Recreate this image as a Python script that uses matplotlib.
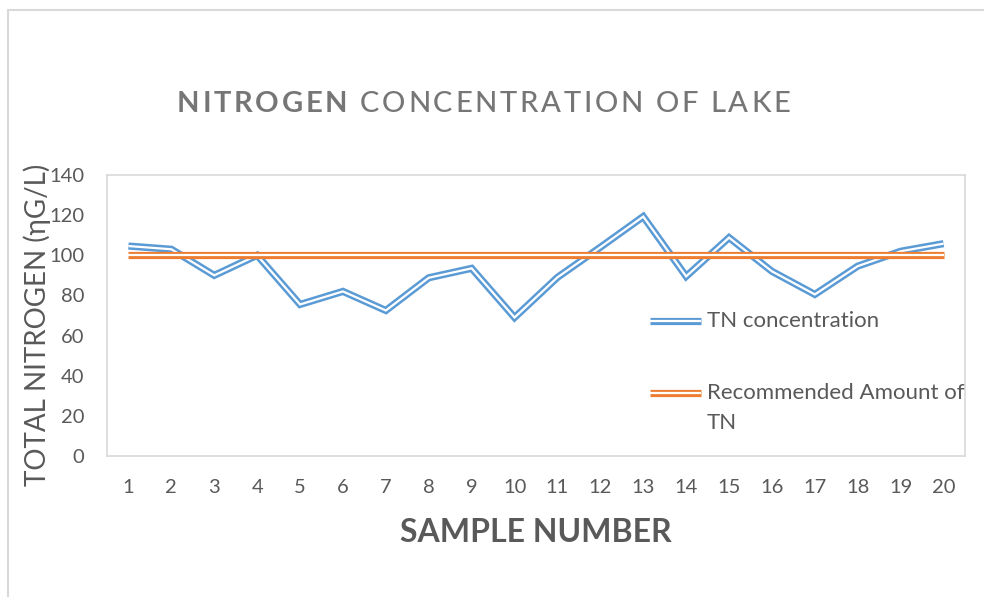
import numpy as np
import matplotlib.pyplot as plt
from matplotlib.lines import Line2D
from matplotlib.patches import Rectangle

# data
samples = list(range(1, 21))
tn_conc = [104.6, 103, 90, 100, 75.5, 82, 72.5, 88.8, 93.5, 69,
           89, 104, 119.3, 89.5, 108.8, 92, 80.5, 94.6, 102, 105.8]
recommended = [100] * 20
y_ticks = [0, 20, 40, 60, 80, 100, 120, 140]

BLUE = '#5B9BD5'
ORANGE = '#ED7D31'
GREY = '#595959'
FONT = ['Lato', 'DejaVu Sans']

W, H = 984, 597
fig = plt.figure(figsize=(W / 100, H / 100), dpi=100)
plt.rcParams['font.family'] = FONT

def fx(px):
    return px / W

def fy(py):
    return 1 - py / H

# outer chart border
fig.patches.append(Rectangle((fx(8), fy(700)), fx(1100), fy(10) - fy(700),
                             transform=fig.transFigure, fill=False,
                             ec='#d9d9d9', lw=1.5))

ax = fig.add_axes([fx(107), fy(456), fx(965) - fx(107), fy(175) - fy(456)])

def double_line(x, y, color):
    ax.plot(x, y, color=color, lw=5.2, solid_joinstyle='miter', solid_capstyle='butt')
    ax.plot(x, y, color='white', lw=1.6, solid_joinstyle='miter', solid_capstyle='butt')

double_line(samples, tn_conc, BLUE)
double_line(samples, recommended, ORANGE)

ax.set_xlim(0.5, 20.5)
ax.set_ylim(0, 140)
ax.set_xticks(samples)
ax.set_yticks(y_ticks)
ax.tick_params(length=0, labelsize=14.5, labelcolor=GREY)
ax.tick_params(axis='x', pad=16.5)
ax.tick_params(axis='y', pad=16.5)
for s in ax.spines.values():
    s.set_color('#d9d9d9')
    s.set_linewidth(1.2)

# axis titles
fig.text(fx(536), fy(533), 'SAMPLE NUMBER', ha='center', va='center',
         fontsize=23, fontweight='bold', color=GREY)
fig.text(fx(37), fy(325), 'TOTAL NITROGEN (ηG/L)', ha='center', va='center',
         rotation=90, fontsize=20, color=GREY)

# legend drawn by hand
for yy, col in [(321, BLUE), (393, ORANGE)]:
    fig.lines.append(Line2D([fx(650), fx(701)], [fy(yy), fy(yy)], transform=fig.transFigure,
                            color=col, lw=5.2, solid_capstyle='butt'))
    fig.lines.append(Line2D([fx(650), fx(701)], [fy(yy), fy(yy)], transform=fig.transFigure,
                            color='white', lw=1.6, solid_capstyle='butt'))
fig.text(fx(707), fy(321), 'TN concentration', ha='left', va='center',
         fontsize=16, color=GREY)
fig.text(fx(707), fy(393), 'Recommended Amount of', ha='left', va='center',
         fontsize=16, color=GREY)
fig.text(fx(707), fy(423), 'TN', ha='left', va='center',
         fontsize=16, color=GREY)

# letter-spaced title
renderer = fig.canvas.get_renderer()
title_parts = [('NITROGEN', 'bold'), (' CONCENTRATION OF LAKE', 'medium')]
chars = []
for txt, wt in title_parts:
    for c in txt:
        chars.append((c, wt))
widths = []
for c, wt in chars:
    if c == ' ':
        widths.append(7)
        continue
    t = fig.text(0, 0, c, fontsize=21, fontweight=wt)
    widths.append(t.get_window_extent(renderer).width)
    t.remove()
x0, x1 = 177, 790
track = (x1 - x0 - sum(widths)) / (len(chars) - 1)
xp = x0
for (c, wt), w in zip(chars, widths):
    if c != ' ':
        fig.text(fx(xp), fy(112), c, fontsize=21, fontweight=wt,
                 color='#767676', ha='left', va='baseline')
    xp += w + track

fig.savefig('out.png', dpi=100)
